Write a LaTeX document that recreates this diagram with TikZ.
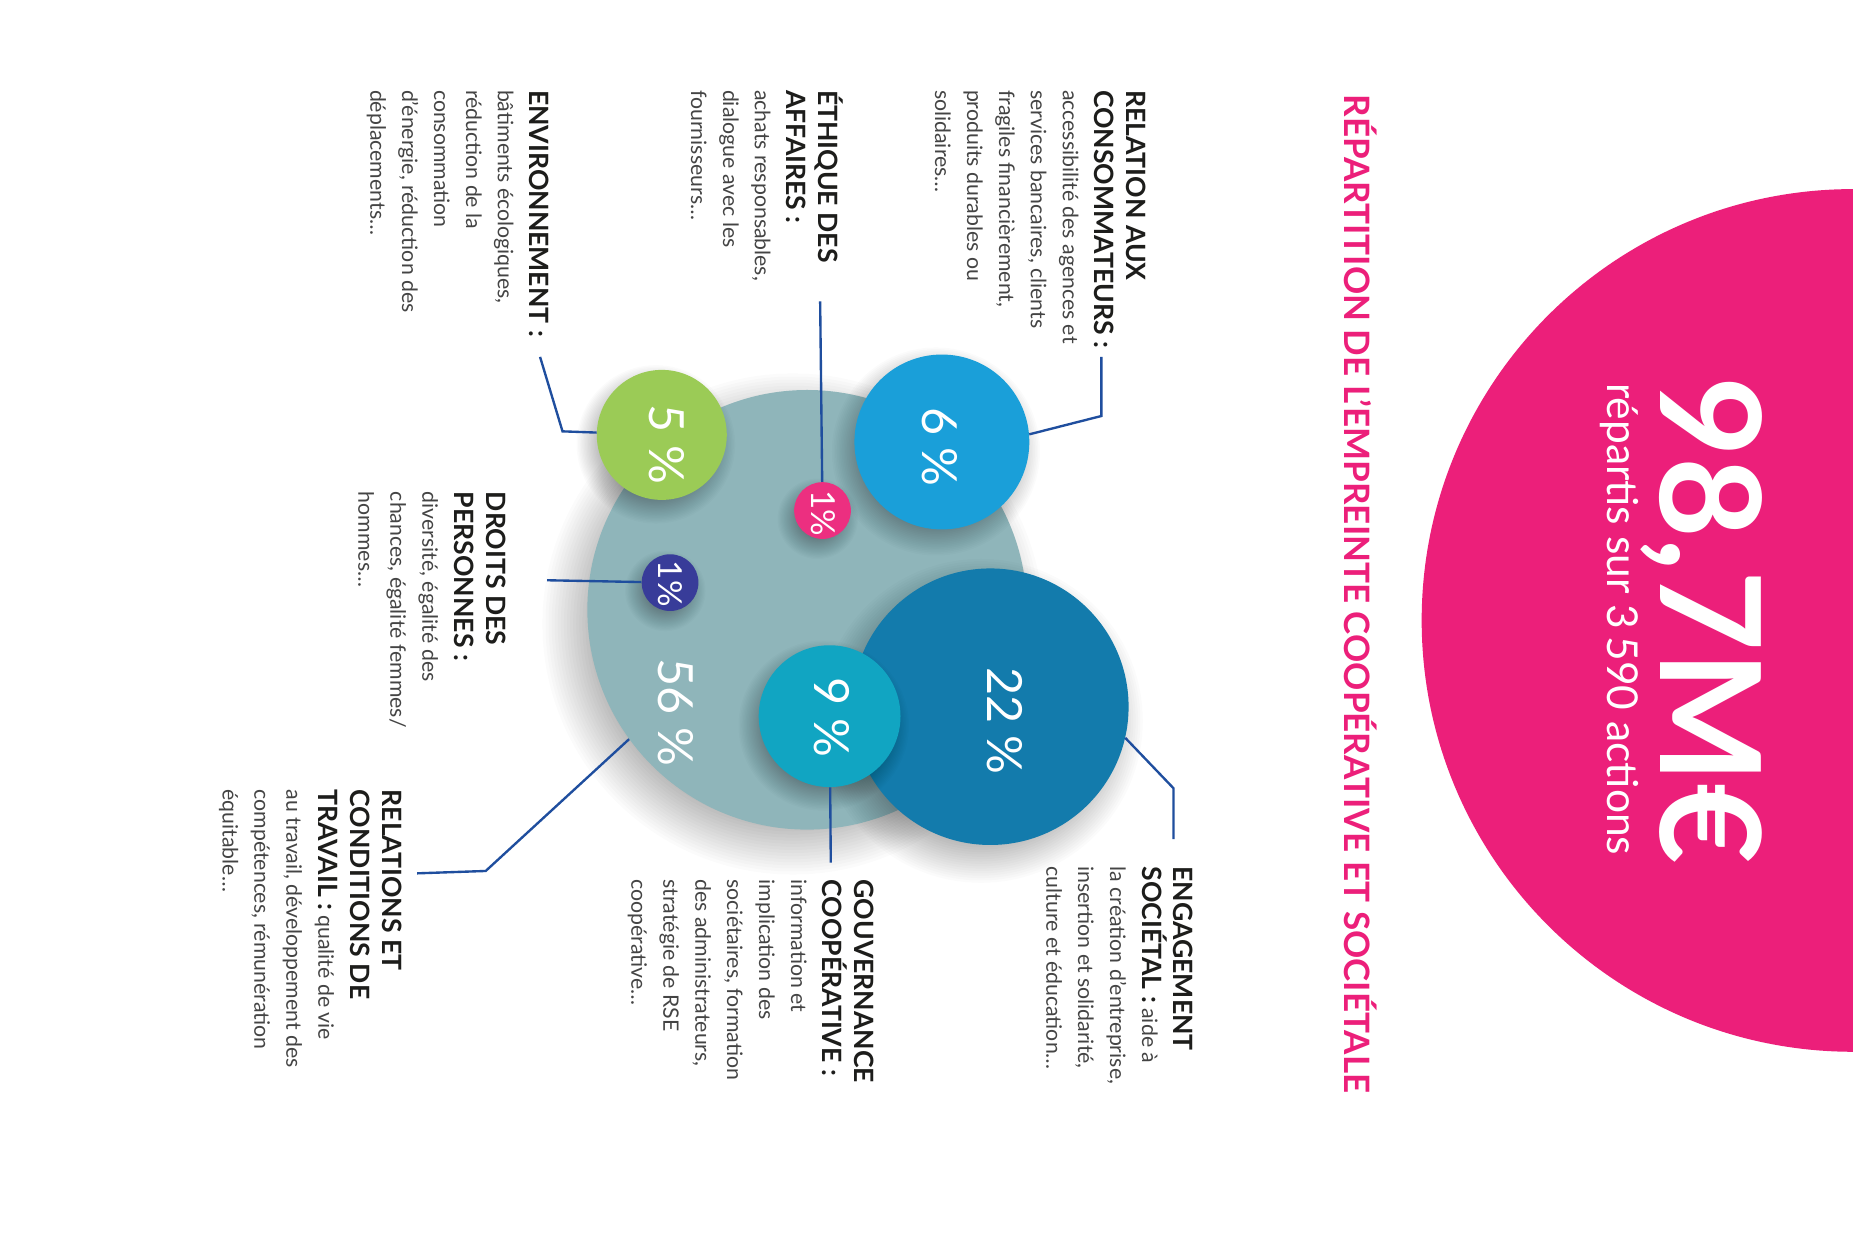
\documentclass[tikz,border=0pt]{standalone}
\usepackage{fontspec}
\setmainfont{Lato}
\definecolor{pinkc}{HTML}{EC1F7A}
\definecolor{greyc}{HTML}{8FB5BA}
\definecolor{greenc}{HTML}{9BCB56}
\definecolor{bluec}{HTML}{1A9FD9}
\definecolor{pinksm}{HTML}{EC2F80}
\definecolor{navyc}{HTML}{383C99}
\definecolor{darkbc}{HTML}{137BAC}
\definecolor{tealc}{HTML}{11A5C2}
\definecolor{linec}{HTML}{1F4E9E}
\definecolor{bodyc}{HTML}{444444}
\definecolor{headc}{HTML}{1D1D1B}
\newcommand{\hd}[1]{{\fontsize{22.5}{27}\selectfont\bfseries\color{headc}#1}}
% soft shadow: #1 centre, #2 radius, #3 blur half-width, #4 opacity per layer
\newcommand{\softshade}[4]{%
  \foreach \k in {0,...,19} {\fill[black, opacity=#4] (#1) circle[radius={#2+#3-\k*#3/10}];}}
\tikzset{
  lbl/.style={rotate=-90, anchor=north west, inner sep=0pt, align=left, text=bodyc, font=\fontsize{18}{27}\selectfont},
  conn/.style={draw=linec, line width=2pt},
  pct/.style={rotate=-90, text=white, inner sep=0pt, font=\fontsize{41}{41}\selectfont},
  pcts/.style={rotate=-90, text=white, inner sep=0pt, font=\fontsize{28}{28}\selectfont},
  bubble/.style={circle, inner sep=0pt, draw=none}
}
\begin{document}
\begin{tikzpicture}[x=1pt,y=-1pt]
\path[use as bounding box, fill=white] (0,0) rectangle (1568,1053);
\begin{scope}
\clip (0,0) rectangle (1568,1053);
\fill[pinkc] (1568,525) circle[radius=365];
\end{scope}
\node[rotate=-90, anchor=base, inner sep=0pt, text=white, font=\fontsize{118}{118}\selectfont\bfseries] (total) at (1405,525) {98,7M€};
\node[rotate=-90, anchor=base, inner sep=0pt, text=white, font=\fontsize{36}{36}\selectfont] (sub) at (1360,524) {répartis sur 3\,590 actions};
\node[rotate=-90, anchor=base west, inner sep=0pt, text=pinkc, font=\fontsize{29.6}{29.6}\selectfont\bfseries] (title) at (1138,80) {RÉPARTITION DE L’EMPREINTE COOPÉRATIVE ET SOCIÉTALE};

% shadow centres (shifted left and down)
\coordinate (s56) at (671,528);
\coordinate (s5) at (555,376);
\coordinate (s6) at (792,382);
\coordinate (s1p) at (692,439);
\coordinate (s1n) at (563,500);
\coordinate (s22) at (830,610);
\coordinate (s9) at (697,614);

% bubbles with soft shadows
\softshade{s56}{186}{26}{0.017}
\node[bubble, fill=greyc, minimum size=372pt] (c56) at (683,516) {};
\softshade{s5}{55}{12}{0.016}
\node[bubble, fill=greenc, minimum size=110pt] (c5) at (560,368) {};
\softshade{s6}{74}{14}{0.016}
\node[bubble, fill=bluec, minimum size=148pt] (c6) at (797,374) {};
\softshade{s1p}{24}{10}{0.016}
\node[bubble, fill=pinksm, minimum size=48pt] (c1p) at (696,432) {};
\softshade{s1n}{24}{10}{0.016}
\node[bubble, fill=navyc, minimum size=48pt] (c1n) at (567,493) {};
\softshade{s22}{117}{20}{0.017}
\node[bubble, fill=darkbc, minimum size=234pt] (c22) at (838,598) {};
\softshade{s9}{60}{12}{0.016}
\node[bubble, fill=tealc, minimum size=120pt] (c9) at (702,606) {};

\node[pct] (t56) at (572,603) {56 \%};
\node[pct] (t22) at (850,610) {22 \%};
\node[pct] (t9) at (704,607) {9 \%};
\node[pct] (t6) at (795,378) {6 \%};
\node[pct] (t5) at (564,376) {5 \%};
\node[pcts] (t1p) at (697,434) {1\%};
\node[pcts] (t1n) at (567,494) {1\%};

% labels
\node[lbl] (relcons) at (970,76) {\hd{RELATION AUX}\\\hd{CONSOMMATEURS~:}\\accessibilité des agences et\\services bancaires, clients\\fragiles financièrement,\\produits durables ou\\solidaires…};
\node[lbl] (ethique) at (714,76) {\hd{ÉTHIQUE DES}\\\hd{AFFAIRES~:}\\achats responsables,\\dialogue avec les\\fournisseurs…};
\node[lbl] (envir) at (465,76) {\hd{ENVIRONNEMENT~:}\\bâtiments écologiques,\\réduction de la\\consommation\\d’énergie, réduction des\\déplacements…};
\node[lbl] (droits) at (428,416) {\hd{DROITS DES}\\\hd{PERSONNES~:}\\diversité, égalité des\\chances, égalité femmes/\\hommes…};
\node[lbl] (relat) at (340,668) {\hd{RELATIONS ET}\\\hd{CONDITIONS DE}\\\hd{TRAVAIL~:} qualité de vie\\au travail, développement des\\compétences, rémunération\\équitable…};
\node[lbl] (gouv) at (740,744) {\hd{GOUVERNANCE}\\\hd{COOPÉRATIVE~:}\\information et\\implication des\\sociétaires, formation\\des administrateurs,\\stratégie de RSE\\coopérative…};
\node[lbl] (engag) at (1010,733) {\hd{ENGAGEMENT}\\\hd{SOCIÉTAL~:} aide à\\la création d’entreprise,\\insertion et solidarité,\\culture et éducation…};

% connectors
\coordinate (rc1) at (932,352);
\coordinate (rc2) at (932,302);
\draw[conn] (c6.5) -- (rc1) -- (rc2);
\coordinate (ec1) at (694,255);
\draw[conn] (c1p) -- (ec1);
\coordinate (ev1) at (457,302);
\coordinate (ev2) at (476,365);
\draw[conn] (c5) -- (ev2) -- (ev1);
\coordinate (dr1) at (463,491);
\draw[conn] (c1n) -- (dr1);
\coordinate (rt1) at (411,737);
\coordinate (rt2) at (353,739);
\draw[conn] (c56.216) -- (rt1) -- (rt2);
\coordinate (gv1) at (703,730);
\draw[conn] (c9) -- (gv1);
\coordinate (en1) at (993,667);
\coordinate (en2) at (993,710);
\draw[conn] (c22.-13) -- (en1) -- (en2);
\end{tikzpicture}
\end{document}
